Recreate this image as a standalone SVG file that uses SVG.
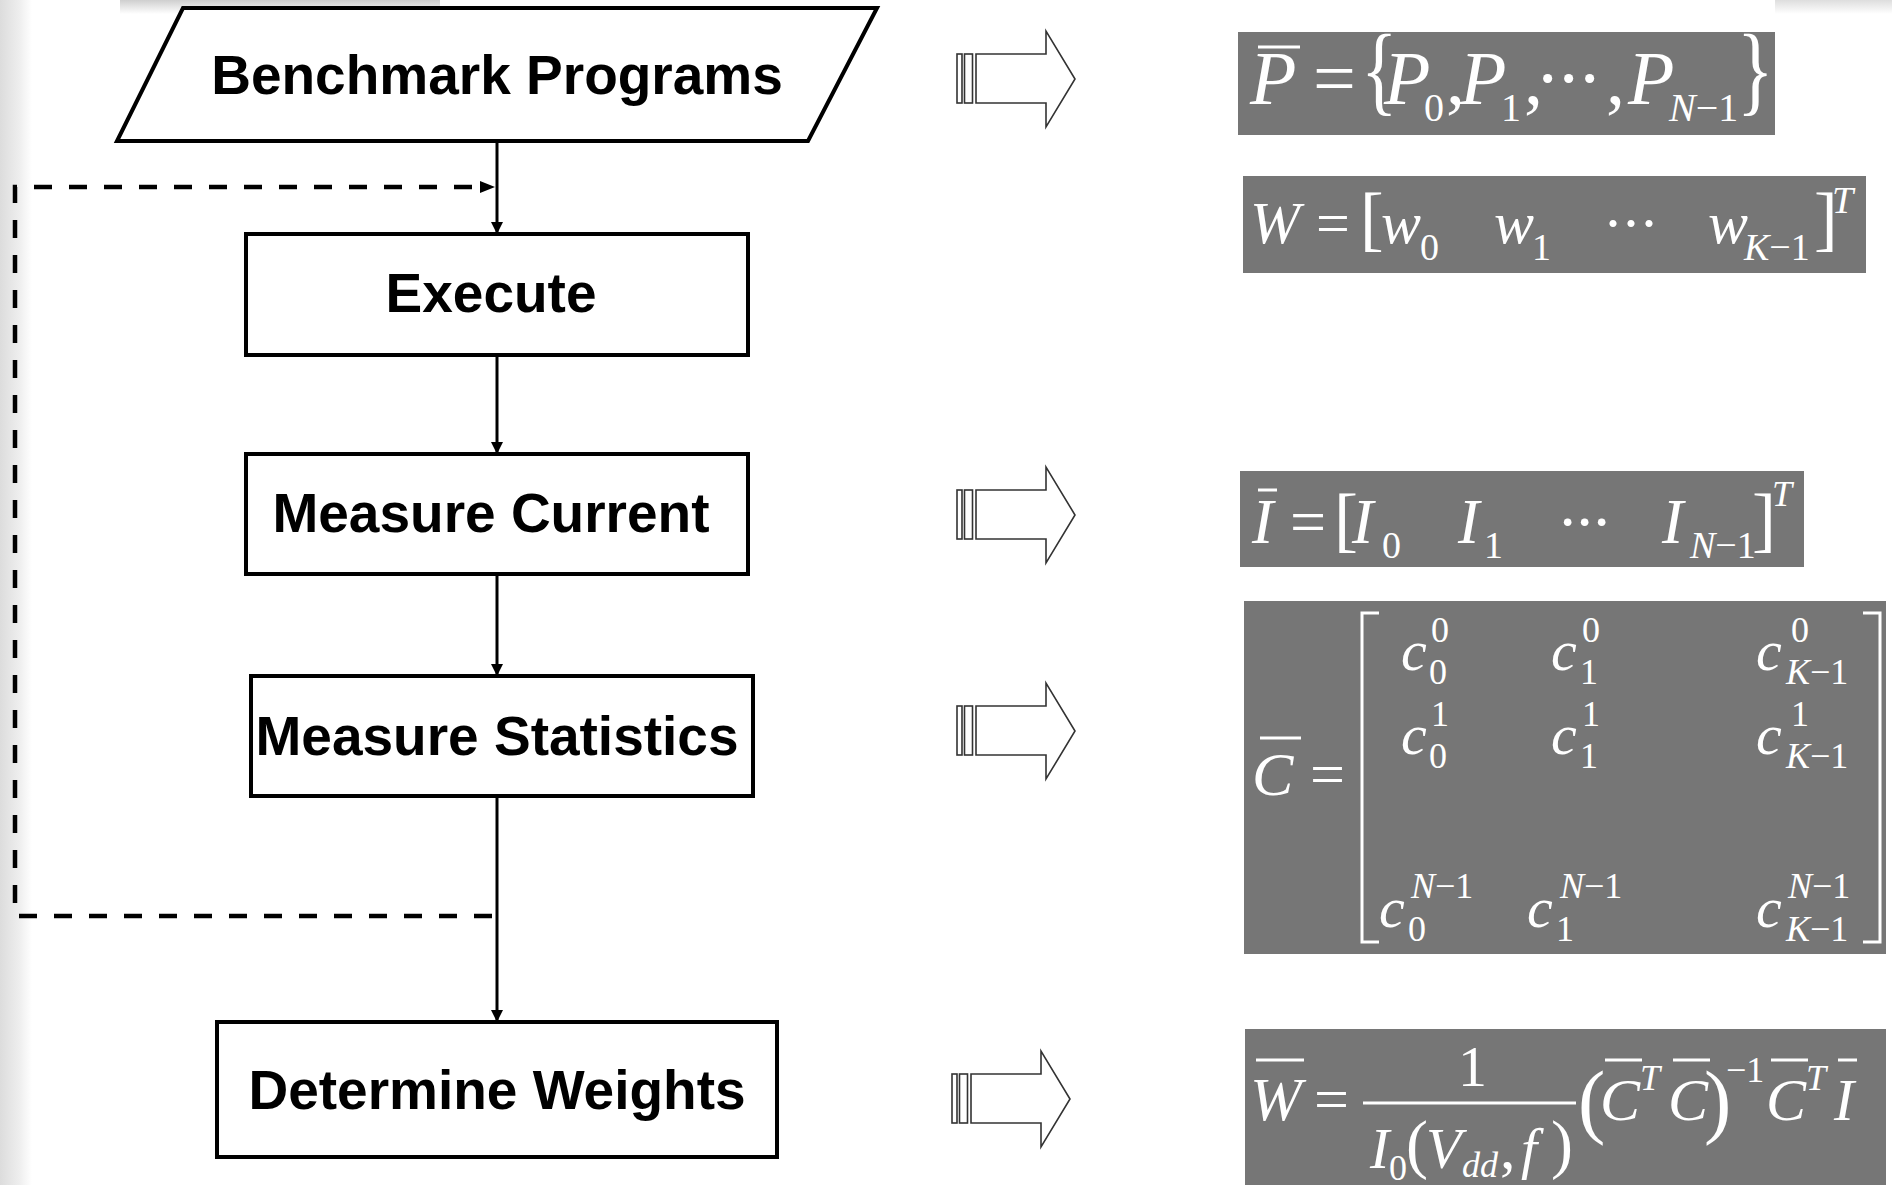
<svg xmlns="http://www.w3.org/2000/svg" width="1892" height="1185" viewBox="0 0 1892 1185">
<style>
.node{fill:#fff;stroke:#000;stroke-width:4}
.lbl{font-family:"Liberation Sans",Arial,sans-serif;font-weight:bold;font-size:55px;fill:#000;text-anchor:middle}
.fbox{fill:#767676}
.m{font-family:"Liberation Serif","Times New Roman",serif;fill:#fff}
.i{font-style:italic}
.bar{stroke:#fff;stroke-width:3;fill:none}
.conn{stroke:#000;stroke-width:3;fill:none}
.dash{stroke:#000;stroke-width:4.5;fill:none;stroke-dasharray:18 17}
.blk{fill:#fff;stroke:#333;stroke-width:1.6}
</style>
<defs>
<linearGradient id="lg" x1="0" y1="0" x2="1" y2="0">
<stop offset="0" stop-color="#dcdcdc"/><stop offset="0.6" stop-color="#eeeeee"/><stop offset="1" stop-color="#ffffff"/>
</linearGradient>
<linearGradient id="tg" x1="0" y1="0" x2="0" y2="1">
<stop offset="0" stop-color="#cfcfcf"/><stop offset="1" stop-color="#ffffff"/>
</linearGradient>
<marker id="ah" viewBox="0 0 10 10" refX="10" refY="5" markerWidth="4" markerHeight="4" orient="auto" markerUnits="strokeWidth">
<path d="M0,0 L10,5 L0,10 z" fill="#000"/>
</marker>
<g id="blockArrow">
<rect class="blk" x="957" y="-25" width="5" height="49"/>
<rect class="blk" x="964.5" y="-25" width="8" height="49"/>
<path class="blk" d="M976,-25 L1046,-25 L1046,-48 L1075,0 L1046,48 L1046,24 L976,24 Z"/>
</g>
</defs>
<rect width="1892" height="1185" fill="#fff"/>
<rect x="0" y="0" width="32" height="1185" fill="url(#lg)"/>
<rect x="120" y="0" width="320" height="14" fill="url(#tg)"/>
<rect x="1775" y="0" width="117" height="14" fill="url(#tg)" opacity="0.7"/>

<g id="connectors">
<line class="conn" x1="497" y1="141" x2="497" y2="234" marker-end="url(#ah)"/>
<line class="conn" x1="497" y1="355" x2="497" y2="454" marker-end="url(#ah)"/>
<line class="conn" x1="497" y1="574" x2="497" y2="676" marker-end="url(#ah)"/>
<line class="conn" x1="497" y1="796" x2="497" y2="1022" marker-end="url(#ah)"/>
<path class="dash" d="M492,916 L15,916 L15,187 L480,187"/>
<path d="M480,181 L495,187 L480,193 Z" fill="#000"/>
</g>

<g id="node-benchmark">
<polygon class="node" points="183,8 877,8 808,141 117,141"/>
<text class="lbl" x="497" y="94">Benchmark Programs</text>
</g>
<g id="node-execute">
<rect class="node" x="246" y="234" width="502" height="121"/>
<text class="lbl" x="491" y="312">Execute</text>
</g>
<g id="node-current">
<rect class="node" x="246" y="454" width="502" height="120"/>
<text class="lbl" x="491" y="532">Measure Current</text>
</g>
<g id="node-statistics">
<rect class="node" x="251" y="676" width="502" height="120"/>
<text class="lbl" x="497" y="755">Measure Statistics</text>
</g>
<g id="node-weights">
<rect class="node" x="217" y="1022" width="560" height="135"/>
<text class="lbl" x="497" y="1109">Determine Weights</text>
</g>

<g id="arrows">
<use href="#blockArrow" transform="translate(0,79)"/>
<use href="#blockArrow" transform="translate(0,515)"/>
<use href="#blockArrow" transform="translate(0,731)"/>
<use href="#blockArrow" transform="translate(-5,1099)"/>
</g>

<g id="formula-P">
<rect class="fbox" x="1238" y="32" width="537" height="103"/>
<g class="m" font-size="76">
<text class="i" x="1250" y="104">P</text>
<text x="1313" y="104">=</text>
<text transform="matrix(1,0,0,1.3,1361,103)">{</text>
<text class="i" x="1384" y="104">P</text>
<text x="1446" y="104">,</text>
<text class="i" x="1460" y="104">P</text>
<text x="1524" y="104">,</text>
<text x="1535" y="104">·</text>
<text x="1556" y="104">·</text>
<text x="1577" y="104">·</text>
<text x="1606" y="104">,</text>
<text class="i" x="1628" y="104">P</text>
<text transform="matrix(1,0,0,1.3,1737,103)">}</text>
</g>
<g class="m" font-size="40">
<text x="1424" y="121">0</text>
<text x="1501" y="121">1</text>
<text x="1669" y="121"><tspan class="i">N</tspan>−1</text>
</g>
<line class="bar" x1="1258" y1="47" x2="1300" y2="47"/>
</g>

<g id="formula-Wvec">
<rect class="fbox" x="1243" y="176" width="623" height="97"/>
<g class="m" font-size="60">
<text class="i" x="1250" y="243">W</text>
<text x="1316" y="243">=</text>
<text x="1360" y="242" font-size="71">[</text>
<text class="i" x="1381" y="243">w</text>
<text class="i" x="1494" y="243">w</text>
<text x="1603" y="243">·</text>
<text x="1621" y="243">·</text>
<text x="1639" y="243">·</text>
<text class="i" x="1708" y="243">w</text>
<text x="1814" y="242" font-size="71">]</text>
</g>
<g class="m" font-size="38">
<text x="1420" y="260">0</text>
<text x="1532" y="260">1</text>
<text x="1744" y="260"><tspan class="i">K</tspan>−1</text>
<text class="i" x="1832" y="213">T</text>
</g>
</g>

<g id="formula-I">
<rect class="fbox" x="1240" y="471" width="564" height="96"/>
<g class="m" font-size="64">
<text class="i" x="1252" y="543">I</text>
<text x="1290" y="543">=</text>
<text x="1334" y="543" font-size="72">[</text>
<text class="i" x="1352" y="543">I</text>
<text class="i" x="1458" y="543">I</text>
<text x="1557" y="543">·</text>
<text x="1574" y="543">·</text>
<text x="1591" y="543">·</text>
<text class="i" x="1662" y="543">I</text>
<text x="1752" y="543" font-size="72">]</text>
</g>
<g class="m" font-size="38">
<text x="1382" y="558">0</text>
<text x="1484" y="558">1</text>
<text x="1690" y="558"><tspan class="i">N</tspan>−1</text>
<text class="i" x="1772" y="506" font-size="36">T</text>
</g>
<line class="bar" x1="1258" y1="490" x2="1277" y2="490"/>
</g>

<g id="formula-C">
<rect class="fbox" x="1244" y="601" width="642" height="353"/>
<g class="m" font-size="62">
<text class="i" x="1252" y="795">C</text>
<text x="1310" y="795">=</text>
</g>
<line class="bar" x1="1260" y1="738" x2="1301" y2="738"/>
<path class="bar" d="M1379,613 L1362,613 L1362,942 L1379,942"/>
<path class="bar" d="M1863,613 L1880,613 L1880,942 L1863,942"/>
<g class="m i" font-size="58">
<text x="1401" y="670">c</text>
<text x="1551" y="670">c</text>
<text x="1756" y="670">c</text>
<text x="1401" y="754">c</text>
<text x="1551" y="754">c</text>
<text x="1756" y="754">c</text>
<text x="1379" y="927">c</text>
<text x="1527" y="927">c</text>
<text x="1756" y="927">c</text>
</g>
<g class="m" font-size="36">
<text x="1431" y="642">0</text><text x="1429" y="684">0</text>
<text x="1582" y="642">0</text><text x="1580" y="684">1</text>
<text x="1791" y="642">0</text><text x="1786" y="684"><tspan class="i">K</tspan>−1</text>
<text x="1431" y="726">1</text><text x="1429" y="768">0</text>
<text x="1582" y="726">1</text><text x="1580" y="768">1</text>
<text x="1791" y="726">1</text><text x="1786" y="768"><tspan class="i">K</tspan>−1</text>
<text x="1411" y="898"><tspan class="i">N</tspan>−1</text><text x="1408" y="941">0</text>
<text x="1560" y="898"><tspan class="i">N</tspan>−1</text><text x="1556" y="941">1</text>
<text x="1788" y="898"><tspan class="i">N</tspan>−1</text><text x="1786" y="941"><tspan class="i">K</tspan>−1</text>
</g>
</g>

<g id="formula-W">
<rect class="fbox" x="1245" y="1029" width="641" height="156"/>
<g class="m" font-size="62">
<text class="i" x="1250" y="1120">W</text>
<text x="1314" y="1120">=</text>
<text x="1458" y="1086" font-size="58">1</text>
<text class="i" x="1370" y="1168" font-size="58">I</text>
<text x="1406" y="1166" font-size="66">(</text>
<text class="i" x="1426" y="1168" font-size="58">V</text>
<text x="1500" y="1168">,</text>
<text class="i" x="1521" y="1168" font-size="58">f</text>
<text x="1551" y="1166" font-size="66">)</text>
<text x="1578" y="1128" font-size="82">(</text>
<text class="i" x="1600" y="1120" font-size="60">C</text>
<text class="i" x="1668" y="1120" font-size="60">C</text>
<text x="1704" y="1128" font-size="82">)</text>
<text class="i" x="1766" y="1120" font-size="60">C</text>
<text class="i" x="1834" y="1120" font-size="60">I</text>
</g>
<g class="m" font-size="36">
<text x="1389" y="1180">0</text>
<text class="i" x="1462" y="1177">dd</text>
<text class="i" x="1640" y="1090">T</text>
<text x="1726" y="1082">−1</text>
<text class="i" x="1806" y="1090">T</text>
</g>
<line class="bar" x1="1363" y1="1103" x2="1576" y2="1103"/>
<line class="bar" x1="1256" y1="1060" x2="1304" y2="1060"/>
<line class="bar" x1="1605" y1="1060" x2="1642" y2="1060"/>
<line class="bar" x1="1673" y1="1060" x2="1710" y2="1060"/>
<line class="bar" x1="1771" y1="1060" x2="1808" y2="1060"/>
<line class="bar" x1="1838" y1="1060" x2="1857" y2="1060"/>
</g>
</svg>
